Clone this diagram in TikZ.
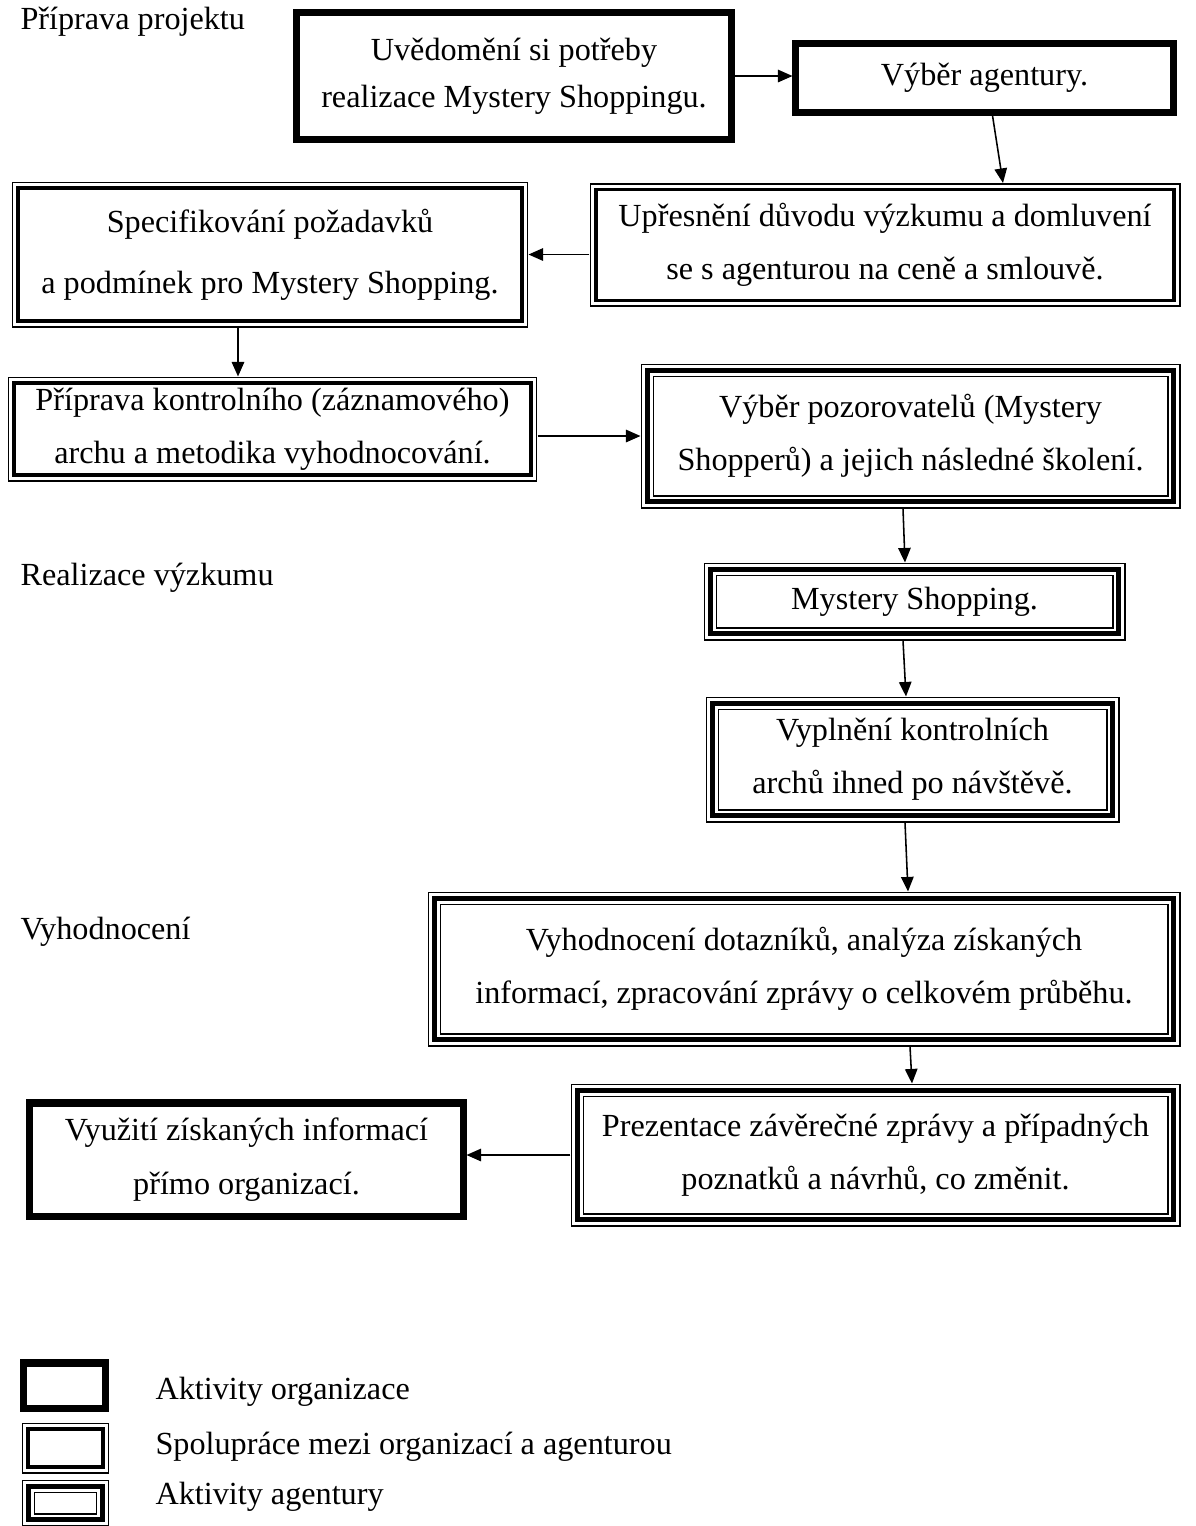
\documentclass[tikz,border=0pt]{standalone}
\usepackage{fontspec}
\setmainfont{Liberation Serif}
\usetikzlibrary{arrows.meta}

\begin{document}
\begin{tikzpicture}[
            x=0.385pt, y=-0.385pt,
            every node/.style={font=\fontsize{12.4}{20.5}\selectfont},
            box/.style 2 args={rectangle, inner sep=0pt, align=center, minimum width=#1*0.385pt, minimum height=#2*0.385pt},
            phase/.style={anchor=west, inner sep=0pt},
            arrow/.style={-{Triangle[length=5.6pt,width=4.8pt]}, line width=0.6pt}
        ]
        \useasboundingbox (0,0) rectangle (1196,1526);

        % Priprava projektu
        \node[phase] (phase1) at (20,22) {Příprava projektu};
        \node[box={440}{132}, font=\fontsize{12.4}{18}\selectfont] (uvedomeni) at (514,76) {Uvědomění si potřeby\\realizace Mystery Shoppingu.};
        \node[box={383}{74}] (vyber) at (984.5,78) {Výběr agentury.};
        \node[box={590}{123}] (upresneni) at (885,245) {Upřesnění důvodu výzkumu a domluvení\\se s agenturou na ceně a smlouvě.};
        \node[box={516}{145}, font=\fontsize{12.4}{23.5}\selectfont] (specifikace) at (270,254.5) {Specifikování požadavků\\a podmínek pro Mystery Shopping.};
        \node[box={529}{104}] (arch) at (272.5,429) {Příprava kontrolního (záznamového)\\archu a metodika vyhodnocování.};
        \node[box={539}{144}] (pozorovatele) at (910.5,436) {Výběr pozorovatelů (Mystery\\Shopperů) a jejich následné školení.};

        % Realizace vyzkumu
        \node[phase] (phase2) at (20,578) {Realizace výzkumu};
        \node[box={421}{77}] (shopping) at (914.5,601.5) {Mystery Shopping.};
        \node[box={413}{125}] (vyplneni) at (912.5,759.5) {Vyplnění kontrolních\\archů ihned po návštěvě.};

        % Vyhodnoceni
        \node[phase] (phase3) at (20,932) {Vyhodnocení};
        \node[box={752}{154}] (vyhodnoceni) at (804,969) {Vyhodnocení dotazníků, analýza získaných\\informací, zpracování zprávy o celkovém průběhu.};
        \node[box={609}{142}] (prezentace) at (875.5,1155) {Prezentace závěrečné zprávy a případných\\poznatků a návrhů, co změnit.};
        \node[box={439}{119}] (vyuziti) at (246.5,1159.5) {Využití získaných informací\\přímo organizací.};

        % Legenda
        \node[box={87}{51}] (legorg) at (64.5,1385.5) {};
        \node[box={87}{50}] (legcoop) at (65.5,1448) {};
        \node[box={87}{46}] (legagency) at (65.5,1503) {};
        \node[phase] (txtorg) at (155,1392) {Aktivity organizace};
        \node[phase] (txtcoop) at (155,1447) {Spolupráce mezi organizací a agenturou};
        \node[phase] (txtagency) at (155,1497) {Aktivity agentury};

        % Ramecky - organizace
        \foreach \n in {uvedomeni,vyber,vyuziti,legorg}
            \draw[line width=2.7pt] ([shift={(3.5,3.5)}]\n.north west) rectangle ([shift={(-3.5,-3.5)}]\n.south east);

        % Ramecky - spoluprace
        \foreach \n in {upresneni,specifikace,arch,legcoop} {
            \draw[line width=0.75pt] ([shift={(1,1)}]\n.north west) rectangle ([shift={(-1,-1)}]\n.south east);
            \draw[line width=1.35pt] ([shift={(6.5,6.5)}]\n.north west) rectangle ([shift={(-6.5,-6.5)}]\n.south east);
        }

        % Ramecky - agentura
        \foreach \n in {pozorovatele,shopping,vyplneni,vyhodnoceni,prezentace,legagency} {
            \draw[line width=0.75pt] ([shift={(1,1)}]\n.north west) rectangle ([shift={(-1,-1)}]\n.south east);
            \draw[line width=1.9pt] ([shift={(7,7)}]\n.north west) rectangle ([shift={(-7,-7)}]\n.south east);
            \draw[line width=0.75pt] ([shift={(13,13)}]\n.north west) rectangle ([shift={(-13,-13)}]\n.south east);
        }

        % Sipky
        \draw[arrow] (uvedomeni.east) -- (vyber.west |- uvedomeni.east);
        \draw[arrow] ([shift={(8,0)}]vyber.south) -- ([shift={(118,0)}]upresneni.north);
        \draw[arrow] (upresneni.west |- specifikace.east) -- (specifikace.east);
        \draw[arrow] ([shift={(-32,0)}]specifikace.south) -- ([shift={(-34.5,0)}]arch.north);
        \draw[arrow] (arch.east |- pozorovatele.west) -- (pozorovatele.west);
        \draw[arrow] ([shift={(-7.5,0)}]pozorovatele.south) -- ([shift={(-9.5,0)}]shopping.north);
        \draw[arrow] ([shift={(-11.5,0)}]shopping.south) -- ([shift={(-6.5,0)}]vyplneni.north);
        \draw[arrow] ([shift={(-7.5,0)}]vyplneni.south) -- ([shift={(104,0)}]vyhodnoceni.north);
        \draw[arrow] ([shift={(106,0)}]vyhodnoceni.south) -- ([shift={(36.5,0)}]prezentace.north);
        \draw[arrow] (prezentace.west) -- (vyuziti.east |- prezentace.west);

\end{tikzpicture}
\end{document}
